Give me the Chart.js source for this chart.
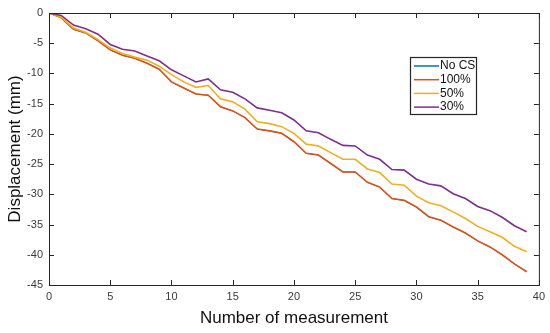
<!DOCTYPE html>
<html>
<head>
<meta charset="utf-8">
<script src="https://cdn.jsdelivr.net/npm/chart.js@4/dist/chart.umd.min.js"></script>
<style>
  html, body { margin: 0; padding: 0; background: #fff; }
  #wrap { width: 550px; height: 333px; }
</style>
</head>
<body>
<div id="wrap"><canvas id="chart" width="550" height="333"></canvas></div>
<script>
// measurement index 0..39
const measurements = Array.from({ length: 40 }, (_, i) => i);

const seriesLabels = ["No CS", "100%", "50%", "30%"];

// displacement (mm)
const full = [0, -0.8, -2.7, -3.3, -4.6, -6.1, -7.0, -7.5, -8.3, -9.3,
  -11.4, -12.4, -13.4, -13.6, -15.5, -16.2, -17.3, -19.2, -19.5, -19.9,
  -21.3, -23.2, -23.5, -24.9, -26.3, -26.3, -28.0, -28.8, -30.7, -31.0,
  -32.1, -33.7, -34.3, -35.4, -36.4, -37.7, -38.7, -40.0, -41.5, -42.8];
// "No CS" sits exactly under the 100% curve in the picture
const noCS = full.slice();
const half = [0, -0.7, -2.5, -3.2, -4.4, -5.8, -6.7, -7.3, -7.8, -8.8,
  -10.2, -11.4, -12.3, -12.0, -14.2, -14.7, -15.9, -18.0, -18.3, -18.8,
  -19.9, -21.7, -22.0, -23.1, -24.2, -24.2, -25.8, -26.4, -28.3, -28.5,
  -30.3, -31.4, -31.9, -32.9, -34.0, -35.3, -36.2, -37.1, -38.6, -39.5];
const third = [0, -0.4, -2.0, -2.6, -3.5, -5.2, -6.0, -6.3, -7.1, -7.9,
  -9.4, -10.4, -11.4, -10.9, -12.7, -13.1, -14.2, -15.7, -16.1, -16.5,
  -17.7, -19.5, -19.8, -20.9, -21.9, -22.0, -23.5, -24.2, -25.9, -26.0,
  -27.5, -28.3, -28.6, -29.9, -30.7, -32.0, -32.7, -33.8, -35.2, -36.2];

const xTicks = [0, 5, 10, 15, 20, 25, 30, 35, 40];
const yTicks = [0, -5, -10, -15, -20, -25, -30, -35, -40, -45];

const colors = ["#0072BD", "#D95319", "#EDB120", "#7E2F8E"];
const axisColor = "#262626";

const toPoints = arr => arr.map((v, i) => ({ x: measurements[i], y: v }));

// matlab style box with inward ticks
const boxPlugin = {
  id: "box",
  afterDraw(chart) {
    const { ctx, chartArea: a, scales } = chart;
    ctx.save();
    ctx.strokeStyle = axisColor;
    ctx.lineWidth = 1;
    ctx.strokeRect(a.left + 0.5, a.top + 0.5, a.right - a.left, a.bottom - a.top);
    const len = 5;
    ctx.beginPath();
    xTicks.forEach(t => {
      const px = Math.round(scales.x.getPixelForValue(t)) + 0.5;
      ctx.moveTo(px, a.bottom); ctx.lineTo(px, a.bottom - len);
      ctx.moveTo(px, a.top); ctx.lineTo(px, a.top + len);
    });
    yTicks.forEach(t => {
      const py = Math.round(scales.y.getPixelForValue(t)) + 0.5;
      ctx.moveTo(a.left, py); ctx.lineTo(a.left + len, py);
      ctx.moveTo(a.right, py); ctx.lineTo(a.right - len, py);
    });
    ctx.stroke();
    ctx.restore();
  }
};

const legendPlugin = {
  id: "boxLegend",
  afterDraw(chart) {
    const ctx = chart.ctx;
    const x = 410, y = 57, w = 66, h = 57;
    ctx.save();
    ctx.fillStyle = "#fff";
    ctx.fillRect(x, y, w, h);
    ctx.strokeStyle = axisColor;
    ctx.lineWidth = 1.2;
    ctx.strokeRect(x + 0.5, y + 0.5, w, h);
    ctx.font = "12px 'Liberation Sans', Arial, sans-serif";
    ctx.textBaseline = "middle";
    chart.data.datasets.forEach((ds, i) => {
      const cy = y + 9 + i * 13.7;
      ctx.strokeStyle = ds.borderColor;
      ctx.lineWidth = 1.5;
      ctx.beginPath();
      ctx.moveTo(x + 4, cy); ctx.lineTo(x + 29, cy);
      ctx.stroke();
      ctx.fillStyle = "#111";
      ctx.fillText(ds.label, x + 30, cy);
    });
    ctx.restore();
  }
};

const seriesData = [noCS, full, half, third];
// higher order is drawn first, so "No CS" ends up hidden under 100%
const drawOrder = [4, 3, 2, 1];
const widths = [1, 1.6, 1.6, 1.6];

new Chart(document.getElementById("chart"), {
  type: "line",
  data: {
    datasets: seriesData.map((arr, i) => ({
      label: seriesLabels[i],
      data: toPoints(arr),
      borderColor: colors[i],
      backgroundColor: colors[i],
      borderWidth: widths[i],
      pointRadius: 0,
      tension: 0,
      fill: false,
      order: drawOrder[i]
    }))
  },
  options: {
    responsive: false,
    animation: false,
    events: [],
    layout: { padding: { top: 13, right: 9, left: 0, bottom: 0 } },
    plugins: { legend: { display: false }, tooltip: { enabled: false } },
    scales: {
      x: {
        type: "linear",
        min: 0, max: 40,
        afterFit: s => { s.height = 48; },
        afterBuildTicks: s => { s.ticks = xTicks.map(v => ({ value: v })); },
        grid: { display: false, drawTicks: false },
        border: { display: false },
        ticks: { color: "#3a3a3a", padding: 5, maxRotation: 0,
          font: { family: "'Liberation Sans', Arial, sans-serif", size: 11 } },
        title: { display: true, text: "Number of measurement", color: "#111",
          padding: { top: 0, bottom: 4 },
          font: { family: "'Liberation Sans', Arial, sans-serif", size: 17 } }
      },
      y: {
        min: -45, max: 0,
        afterFit: s => { s.width = 49; },
        afterBuildTicks: s => { s.ticks = yTicks.map(v => ({ value: v })); },
        grid: { display: false, drawTicks: false },
        border: { display: false },
        ticks: { color: "#3a3a3a", padding: 6,
          font: { family: "'Liberation Sans', Arial, sans-serif", size: 11 } },
        title: { display: true, text: "Displacement (mm)", color: "#111",
          padding: { top: 5, bottom: 0 },
          font: { family: "'Liberation Sans', Arial, sans-serif", size: 17 } }
      }
    }
  },
  plugins: [boxPlugin, legendPlugin]
});
</script>
</body>
</html>
